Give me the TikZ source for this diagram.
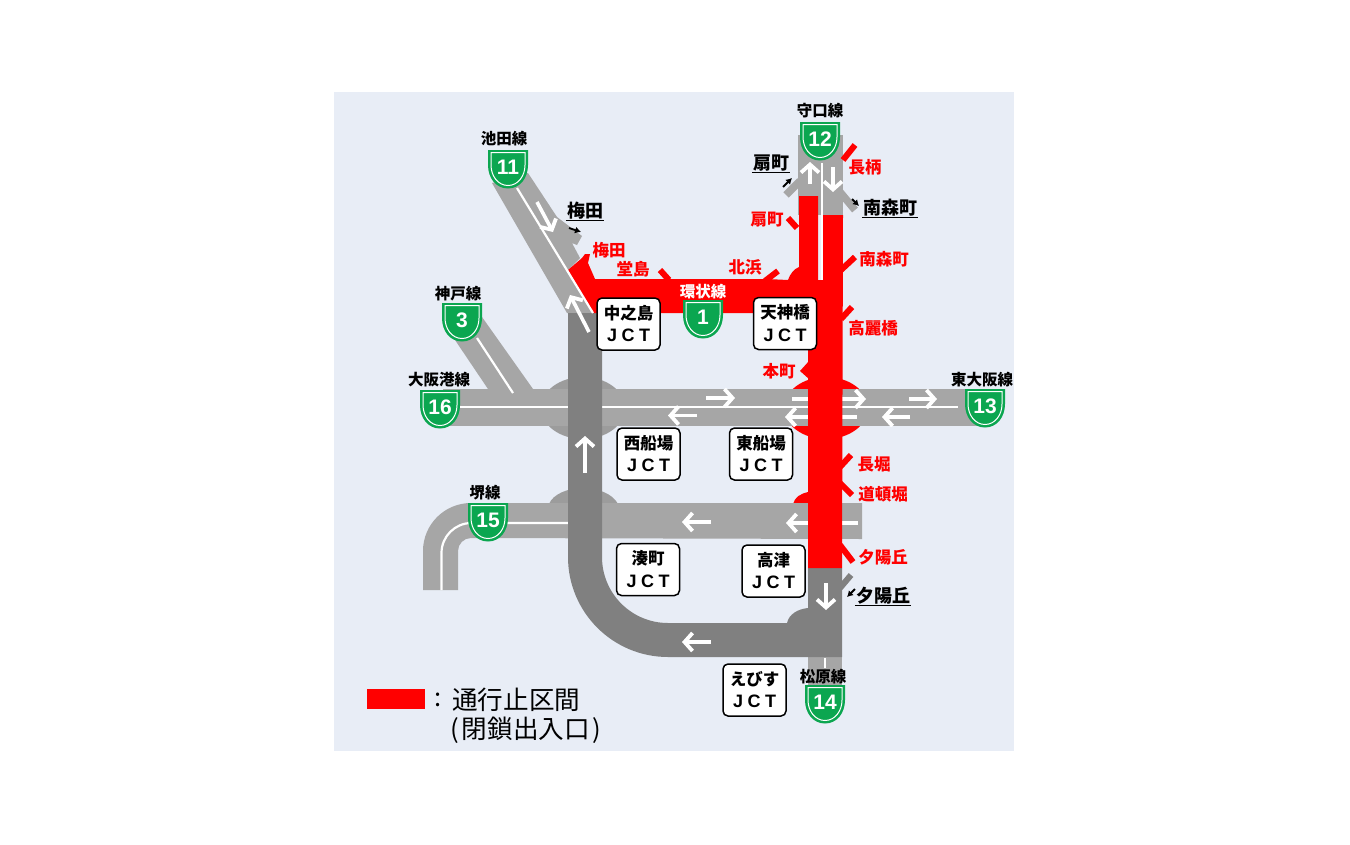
\documentclass[tikz,border=0pt]{standalone}
\usepackage{fontspec}
\newfontfamily\jp{Noto Sans CJK JP}
\newfontfamily\hw{Liberation Sans}
\usetikzlibrary{arrows.meta}
\definecolor{bgc}{HTML}{E8EDF6}
\definecolor{rdl}{HTML}{A6A6A6}
\definecolor{rdd}{HTML}{808080}
\definecolor{jun}{HTML}{9C9C9C}
\definecolor{grn}{HTML}{0BA650}
\definecolor{rd}{HTML}{FF0000}
\tikzset{
  whiteline/.style={draw=white,line width=2.2pt},
  lane/.style={draw=white,line width=3.6pt,-{Straight Barb[length=8pt,width=18pt,line width=3.8pt]}},
  stub/.style={draw=rd,line width=6pt},
  ramp/.style={draw=rdl,line width=7.5pt},
  blackarrow/.style={draw=black,line width=1.8pt,-{Latex[length=6pt,width=7pt]}},
  roadname/.style={inner sep=0,font=\jp\bfseries\fontsize{15.5}{15.5}\selectfont},
  redname/.style={inner sep=0,text=rd,font=\jp\bfseries\fontsize{16.5}{16.5}\selectfont},
  rampname/.style={inner sep=1pt,font=\jp\bfseries\fontsize{18}{18}\selectfont},
  ul/.style={draw=black,line width=1.3pt},
  jct/.style={draw=black,fill=white,line width=1.5pt,rounded corners=5pt,minimum width=63pt,minimum height=52pt,inner sep=0},
  jcttext/.style={inner sep=0,font=\jp\bfseries\fontsize{16.5}{16.5}\selectfont},
  jctmark/.style={inner sep=0,font=\hw\bfseries\fontsize{18}{18}\selectfont},
  num/.style={inner sep=0,text=white,font=\hw\bfseries\fontsize{21}{21}\selectfont},
  legendtext/.style={inner sep=0,anchor=west,font=\jp\fontsize{25.6}{25.6}\selectfont},
}
\newcommand{\jctbox}[3]{%
\node[jct] (#1) at (#2) {};
\node[jcttext] (#1n) at ([yshift=11pt]#1.center) {#3};
\node[jctmark] (#1m) at ([yshift=-11.5pt]#1.center) {J\hspace{4.5pt}C\hspace{4.5pt}T};}
\newcommand{\roadshield}[3]{%
\begin{scope}[shift={(#1)}]
\fill[grn] (-20,0) -- (20,0) -- (20,15) .. controls (20,28) and (12,38.5) .. (0,38.5) .. controls (-12,38.5) and (-20,28) .. (-20,15) -- cycle;
\draw[white,line width=1pt] (-17,2.5) -- (17,2.5) -- (17,15) .. controls (17,26) and (10,35.5) .. (0,35.5) .. controls (-10,35.5) and (-17,26) .. (-17,15) -- cycle;
\node[num] (#3) at (0,17) {#2};
\end{scope}}
\begin{document}
\begin{tikzpicture}[x=1pt,y=-1pt]
\useasboundingbox (0,0) rectangle (1350,844);
\fill[white] (0,0) rectangle (1350,844);
\fill[bgc] (334,92) rectangle (1014,751);
% bulges under the roads
\fill[jun] (583,408) ellipse [x radius=42,y radius=31];
\fill[jun] (549,504) .. controls (553,494) and (568,488) .. (583,488) .. controls (598,488) and (613,494) .. (618,504) -- cycle;
\fill[rd] (826,408) ellipse [x radius=42,y radius=31];
\fill[rd] (793,504) .. controls (795,497) and (800,494) .. (808,492) -- (808,504) -- cycle;
\fill[rdd] (787,623) .. controls (789,614) and (798,609) .. (808,608) -- (808,623) -- cycle;
% light roads
\fill[rdl] (443,389) rectangle (985,426);
\fill[rdl] (455,340) -- (482,317) -- (533,389) -- (488,389) -- cycle;
\draw[whiteline] (477,338) -- (513,393);
\draw[whiteline] (460,407) -- (958,407);
\fill[rdl] (423,590) -- (423,551) arc [start angle=180,end angle=270,radius=48] -- (862,503) -- (862,539) -- (471,538) arc [start angle=270,end angle=180,radius=13] -- (458,590) -- cycle;
\draw[whiteline] (441.5,590) -- (441.5,553) arc [start angle=180,end angle=270,radius=30] -- (568,523);
\fill[rdl] (492,183) -- (528,173) -- (557,217) -- (582,236) -- (577,245) -- (572,243) -- (580,258) -- (568,270) -- (593,313) -- (567,313) -- cycle;
\fill[rdl] (808,655) rectangle (842,690);
\draw[whiteline] (825,658) -- (825,668);
\fill[rdl] (798,135) rectangle (843,215);
\draw[ramp] (786,195) -- (800,181);
\draw[ramp] (840,192) -- (855,210);
% dark road
\fill[rdd] (568,313) -- (602,313) -- (602,557) arc [start angle=180,end angle=90,radius=66] -- (808,623) -- (808,568) -- (842,568) -- (842,657) -- (668,657) arc [start angle=90,end angle=180,radius=100] -- cycle;
\draw[ramp,draw=rdd,line width=6pt] (840,588) -- (851,575);
% lane arrows under the closed section
\draw[lane] (706,398) -- (735,398);
\draw[lane] (792,399) -- (866,399);
\draw[lane] (909,399) -- (937,399);
\draw[lane] (857,417) -- (785,417);
\draw[lane] (910,417) -- (882,417);
\draw[lane] (697,415.5) -- (668,415.5);
\draw[lane] (858,523) -- (786,523);
\draw[lane] (711,522) -- (682,522);
\draw[lane] (711,642) -- (682,642);
\draw[lane] (585,473) -- (585,436);
\draw[lane] (826,583) -- (826,610);
% closed section
\fill[rd] (568,270) -- (582,258) -- (585,254) -- (590,254) -- (588,263) -- (595,279) -- (767,279) -- (788,280) .. controls (790,274) and (794,269) .. (799,267) -- (799,196) -- (818,196) -- (818,280) -- (823,280) -- (823,215) -- (843,215) -- (842,568) -- (808,568) -- (808,313) -- (593,313) -- cycle;
\draw[stub] (843,160) -- (855,145);
\draw[stub] (788,218) -- (797,228);
\draw[stub] (841,270) -- (855,257);
\draw[stub] (765,281) -- (778,271);
\draw[stub] (841,319) -- (852,307);
\draw[stub] (660,270) -- (669,280);
\fill[rd] (809,361) -- (800,371) -- (809,379) -- cycle;
\draw[stub] (840,467) -- (851,455);
\draw[stub] (840,483) -- (852,495);
\draw[stub] (840,545) -- (853,562);
% separators and arrows over everything
\draw[whiteline] (517,188) -- (593,313);
\draw[whiteline] (822,163) -- (822,280);
\draw[lane] (537,202) -- (553,232);
\draw[lane] (589,332) -- (570,295);
\draw[lane] (810,184) -- (810,162);
\draw[lane] (833,167) -- (833,192);
% shields
\roadshield{820,122}{12}{s12}
\roadshield{508,150}{11}{s11}
\roadshield{462,303}{3}{s3}
\roadshield{440,390}{16}{s16}
\roadshield{985,389}{13}{s13}
\roadshield{488,503}{15}{s15}
\roadshield{825,685}{14}{s14}
\roadshield{703,300}{1}{s1}
% route names
\node[roadname] (n12) at (820,111) {守口線};
\node[roadname] (n11) at (504,139) {池田線};
\node[roadname] (n3) at (458,294) {神戸線};
\node[roadname] (n16) at (439,380) {大阪港線};
\node[roadname] (n13) at (982,380) {東大阪線};
\node[roadname] (n15) at (485,493) {堺線};
\node[roadname] (n14) at (823,677) {松原線};
\node[roadname,text=white] (n1) at (703,292) {環状線};
% closed ramps
\node[redname] (r1) at (865,167) {長柄};
\node[redname] (r2) at (767,220) {扇町};
\node[redname] (r3) at (884,259) {南森町};
\node[redname] (r4) at (745,267) {北浜};
\node[redname] (r5) at (873,328) {高麗橋};
\node[redname] (r6) at (609,250) {梅田};
\node[redname] (r7) at (633,269) {堂島};
\node[redname] (r8) at (779,371) {本町};
\node[redname] (r9) at (874,464) {長堀};
\node[redname] (r10) at (883,494) {道頓堀};
\node[redname] (r11) at (883,557) {夕陽丘};
% open ramps
\node[rampname] (b1) at (771,163) {扇町};
\node[rampname] (b2) at (890,208) {南森町};
\node[rampname] (b3) at (585,211) {梅田};
\node[rampname] (b4) at (883,596) {夕陽丘};
\draw[ul] (b1.south west) -- (b1.south east);
\draw[ul] (b2.south west) -- (b2.south east);
\draw[ul] (b3.south west) -- (b3.south east);
\draw[ul] (b4.south west) -- (b4.south east);
\coordinate (a1s) at (783,187); \coordinate (a1e) at (792,178);
\coordinate (a2s) at (852,199); \coordinate (a2e) at (859,206);
\coordinate (a3s) at (569,228); \coordinate (a3e) at (581,232);
\coordinate (a4s) at (855,589); \coordinate (a4e) at (847,597);
\draw[blackarrow] (a1s) -- (a1e);
\draw[blackarrow] (a2s) -- (a2e);
\draw[blackarrow] (a3s) -- (a3e);
\draw[blackarrow] (a4s) -- (a4e);
% junction boxes
\jctbox{j1}{628.5,324}{中之島}
\jctbox{j2}{785,323.5}{天神橋}
\jctbox{j3}{648.5,454}{西船場}
\jctbox{j4}{761,454}{東船場}
\jctbox{j5}{648,569.5}{湊町}
\jctbox{j6}{773.5,571}{高津}
\jctbox{j7}{754.5,690}{えびす}
% legend
\fill[rd] (367,689) rectangle (425,709);
\node[legendtext] (l1) at (434,700) {:};
\node[legendtext] (l2) at (452,700) {通行止区間};
\node[legendtext] (l3) at (450,730) {(\hspace{3pt}閉鎖出入口\hspace{3pt})};
\end{tikzpicture}
\end{document}
